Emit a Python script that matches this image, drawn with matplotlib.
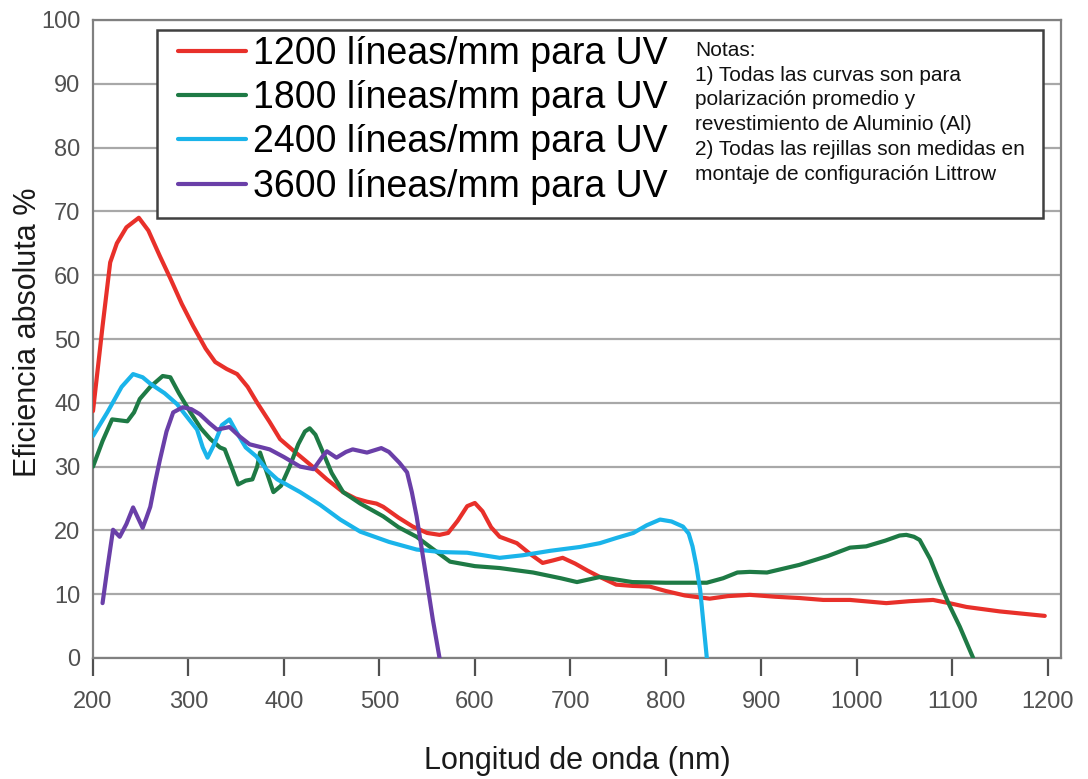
import matplotlib
matplotlib.use("Agg")
import matplotlib.pyplot as plt
from matplotlib.patches import Rectangle

plt.rcParams['font.family'] = ['Liberation Sans', 'DejaVu Sans']

# 1200 lines/mm
x1200 = [200, 210, 218, 225, 235, 248, 258, 270, 281, 293, 305, 318, 328, 340, 351, 362, 372,
         385, 396, 410, 430, 445, 462, 475, 487, 497, 504, 520, 535, 550, 563, 572, 582, 592,
         600, 608, 617, 626, 644, 658, 671, 682, 692, 705, 718, 731, 748, 765, 783, 800, 820,
         846, 865, 888, 915, 940, 965, 993, 1031, 1055, 1080, 1100, 1115, 1150, 1197]
y1200 = [38.7, 52, 62, 65, 67.5, 69, 67, 63, 59.5, 55.5, 52, 48.5, 46.4, 45.3, 44.5, 42.5, 40,
         37, 34.3, 32.5, 30, 28, 26, 25, 24.5, 24.2, 23.7, 22, 20.6, 19.6, 19.3, 19.6, 21.5, 23.8,
         24.3, 23, 20.5, 19, 18, 16.3, 14.9, 15.3, 15.7, 14.8, 13.7, 12.7, 11.5, 11.3, 11.2, 10.5, 9.8,
         9.3, 9.7, 9.9, 9.6, 9.4, 9.1, 9.1, 8.6, 8.9, 9.1, 8.5, 8.0, 7.3, 6.6]

# 1800 lines/mm
x1800 = [200, 210, 220, 236, 243, 249, 260, 273, 281, 290, 302, 313, 323, 333, 338, 345, 352,
         360, 367, 372, 375, 380, 389, 397, 406, 415, 422, 427, 433, 441, 450, 462, 480, 504,
         520, 539, 555, 574, 600, 626, 661, 690, 707, 731, 765, 800, 843, 860, 875, 888, 906,
         940, 970, 993, 1010, 1030, 1045, 1052, 1060, 1066, 1077, 1087, 1097, 1108, 1122]
y1800 = [30, 34, 37.4, 37.1, 38.5, 40.6, 42.5, 44.2, 44, 41.5, 38.5, 36, 34.3, 33, 32.7, 30, 27.2,
         27.8, 28, 30, 32.2, 30, 26, 27, 30, 33.5, 35.5, 36, 35, 32.2, 29, 26, 24.2, 22.2,
         20.5, 19, 17.2, 15.1, 14.4, 14.1, 13.4, 12.5, 11.9, 12.7, 11.9, 11.8, 11.8, 12.5, 13.4, 13.5, 13.4,
         14.6, 16, 17.3, 17.5, 18.4, 19.2, 19.3, 19, 18.5, 15.5, 11.8, 8.3, 4.9, 0]

# 2400 lines/mm
x2400 = [200, 215, 230, 242, 252, 260, 275, 288, 300, 309, 315, 320, 327, 335, 343, 350, 360,
         371, 382, 393, 405, 417, 438, 459, 480, 510, 539, 565, 592, 626, 650, 679, 710, 731,
         748, 766, 780, 794, 806, 818, 824, 828, 832, 836, 843]
y2400 = [34.8, 38.5, 42.5, 44.5, 44, 43, 41.5, 39.8, 37.5, 35.8, 33, 31.4, 33.5, 36.5, 37.4, 35.5, 33,
         31.6, 29.5, 28, 27, 26, 24, 21.7, 19.8, 18.2, 17, 16.6, 16.5, 15.7, 16.1, 16.8, 17.4, 18,
         18.8, 19.6, 20.8, 21.7, 21.4, 20.6, 19.5, 17.5, 14.5, 10.7, 0]

# 3600 lines/mm
x3600 = [210, 215, 221, 228, 235, 242, 247, 252, 256, 260, 265, 270, 277, 284, 294, 303, 312,
         322, 330, 343, 353, 364, 385, 400, 417, 431, 440, 445, 455, 465, 472, 487, 502, 510,
         521, 529, 534, 539, 545, 550, 556, 563]
y3600 = [8.6, 14, 20.1, 19, 21, 23.6, 22, 20.4, 22, 23.7, 27.5, 31, 35.5, 38.5, 39.3, 39, 38.2,
         36.8, 35.8, 36.2, 34.8, 33.5, 32.7, 31.5, 30, 29.6, 31.5, 32.4, 31.4, 32.3, 32.7, 32.2, 32.9, 32.3,
         30.6, 29.1, 26, 22.2, 16.5, 11.8, 6, 0]

labels = ["1200 líneas/mm para UV", "1800 líneas/mm para UV",
          "2400 líneas/mm para UV", "3600 líneas/mm para UV"]
colors = ["#e8302a", "#1e7a45", "#1ab4ea", "#6a3fa8"]

notes = ("Notas:\n1) Todas las curvas son para\npolarización promedio y\n"
         "revestimiento de Aluminio (Al)\n2) Todas las rejillas son medidas en\n"
         "montaje de configuración Littrow")

xticks = [200, 300, 400, 500, 600, 700, 800, 900, 1000, 1100, 1200]
yticks = [0, 10, 20, 30, 40, 50, 60, 70, 80, 90, 100]

fig = plt.figure(figsize=(10.88, 7.79), dpi=100)
ax = fig.add_axes([93/1088, 1-658/779, (1061-93)/1088, (658-20)/779])

for xs, ys, c, lab in zip([x1200, x1800, x2400, x3600], [y1200, y1800, y2400, y3600], colors, labels):
    ax.plot(xs, ys, color=c, lw=3, label=lab, solid_joinstyle='round', solid_capstyle='round', zorder=3)

ax.set_xlim(200, 1214)
ax.set_ylim(0, 100)
ax.set_xticks(xticks)
ax.set_yticks(yticks)
ax.grid(axis='y', color='#a8a8a8', lw=1.6)
ax.set_axisbelow(True)
for s in ax.spines.values():
    s.set_color('#808080')
    s.set_linewidth(1.6)
ax.tick_params(axis='x', length=13, width=1.6, color='#505050', labelsize=17, labelcolor='#505050', pad=11)
ax.tick_params(axis='y', length=0, labelsize=17, labelcolor='#505050', pad=9)

ax.set_xlabel("Longitud de onda (nm)", fontsize=22, color='#1a1a1a')
ax.set_ylabel("Eficiencia absoluta %", fontsize=22, color='#1a1a1a')
ax.xaxis.set_label_coords(0.5, -0.138)
ax.yaxis.set_label_coords(-0.067, 0.51)
ax.yaxis.label.set_va('center')

box = Rectangle((0.066, 0.690), 0.915, 0.294, transform=ax.transAxes, facecolor='white',
                edgecolor='#404040', lw=1.8, zorder=4)
ax.add_patch(box)

leg = ax.legend(loc='upper left', bbox_to_anchor=(0.088, 0.975), frameon=False, fontsize=27,
                handlelength=1.8, handletextpad=0.2, labelspacing=0.22, borderpad=0, borderaxespad=0)
leg.set_zorder(5)
for h in leg.get_lines():
    h.set_linewidth(3)

ax.text(0.622, 0.967, notes, transform=ax.transAxes, fontsize=15, va='top', ha='left',
        linespacing=1.38, color='#111111', zorder=6)

fig.savefig("out.png", dpi=100)
